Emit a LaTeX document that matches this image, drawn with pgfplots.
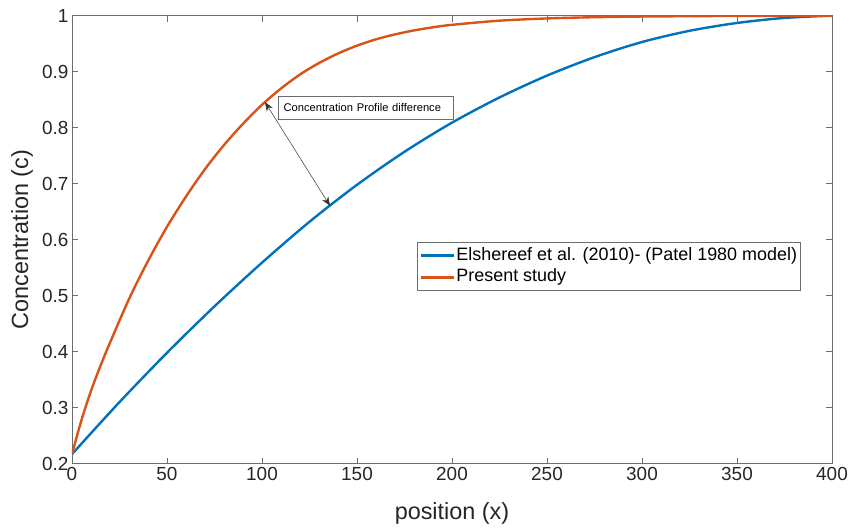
\documentclass[border=0pt]{standalone}
\usepackage{fontspec}
\setmainfont{Liberation Sans}
\usepackage{pgfplots}
\pgfplotsset{compat=1.18}
\usetikzlibrary{arrows.meta}

\definecolor{mblue}{rgb}{0,0.447,0.741}
\definecolor{morange}{rgb}{0.85,0.325,0.098}
\definecolor{axgray}{rgb}{0.15,0.15,0.15}

\begin{document}
\begin{tikzpicture}
\begin{axis}[
  scale only axis,
  width=760bp, height=448bp,
  xmin=0, xmax=400, ymin=0.2, ymax=1,
  xtick={0,50,100,150,200,250,300,350,400},
  ytick={0.2,0.3,0.4,0.5,0.6,0.7,0.8,0.9,1},
  tick align=inside, tick pos=both,
  major tick length=6bp,
  axis line style={draw=gray!85!black, line width=0.6bp},
  every tick/.style={draw=gray!85!black, line width=0.6bp},
  /pgf/number format/assume math mode=true,
  ticklabel style={font=\fontsize{19}{22}\selectfont, text=axgray},
  yticklabel style={/pgf/number format/fixed, /pgf/number format/precision=1},
  xlabel={position (x)},
  ylabel={Concentration (c)},
  label style={font=\fontsize{23.5}{26}\selectfont, text=axgray},
  xlabel style={at={(axis description cs:0.5,-0.11)}, anchor=center},
  ylabel style={at={(axis description cs:-0.0658,0.5)}, anchor=center},
  legend style={at={(0.4543,0.494)}, anchor=north west,
    draw=gray!85!black, line width=0.6bp,
    font=\fontsize{18}{20}\selectfont, text=black,
    inner xsep=2bp, inner ysep=2bp, row sep=0bp,
    nodes={inner xsep=1.5bp, inner ysep=2.4bp, text height=13bp, text depth=4bp}},
  legend cell align=left,
  legend image code/.code={\draw[#1, line width=2.4bp] (0bp,0bp) -- (33bp,0bp);},
]
% Elshereef et al. (2010), Patel (1980) model
\addplot[mblue, line width=2.4bp, smooth] coordinates {
  (0,0.217) (25,0.310) (50,0.398) (75,0.481) (100,0.559) (125,0.632)
  (150,0.698) (175,0.757) (200,0.809) (225,0.854) (250,0.893) (275,0.926)
  (300,0.953) (325,0.973) (350,0.987) (375,0.996) (400,1.000)
};
\addlegendentry{Elshereef et al. (2010)- (Patel 1980 model)\hspace{6bp}}
% present study
\addplot[morange, line width=2.4bp, smooth] coordinates {
  (0,0.217) (5,0.278) (10,0.330) (15,0.375) (20,0.416) (30,0.494)
  (40,0.562) (50,0.623) (60,0.677) (70,0.726) (80,0.769) (90,0.807)
  (100,0.841) (110,0.870) (120,0.895) (130,0.9155) (140,0.9325) (150,0.9465)
  (160,0.9578) (170,0.9666) (180,0.9737) (190,0.9793) (200,0.9837)
  (225,0.9911) (250,0.9951) (275,0.9973) (300,0.9985) (350,0.9996) (400,1.000)
};
\addlegendentry{Present study}

% annotation between the two profiles
\draw[{Stealth[length=9bp,width=7bp]}-{Stealth[length=9bp,width=7bp]}, line width=0.5bp, black!80]
  (axis cs:101.6,0.8456) -- (axis cs:135.8,0.6605);
\node[draw=gray!85!black, line width=0.6bp, fill=white, anchor=north west,
  font=\fontsize{11.2}{13}\selectfont, text width=164bp, align=left,
  inner xsep=5.6bp, minimum height=23bp]
  at (axis cs:108.3,0.8566) {Concentration Profile difference};

\coordinate (ll) at (rel axis cs:0,0);
\coordinate (ur) at (rel axis cs:1,1);
\end{axis}
\pgfresetboundingbox
\path[use as bounding box] ([shift={(-72bp,-65.3bp)}]ll) rectangle ([shift={(21bp,15.7bp)}]ur);
\end{tikzpicture}
\end{document}
